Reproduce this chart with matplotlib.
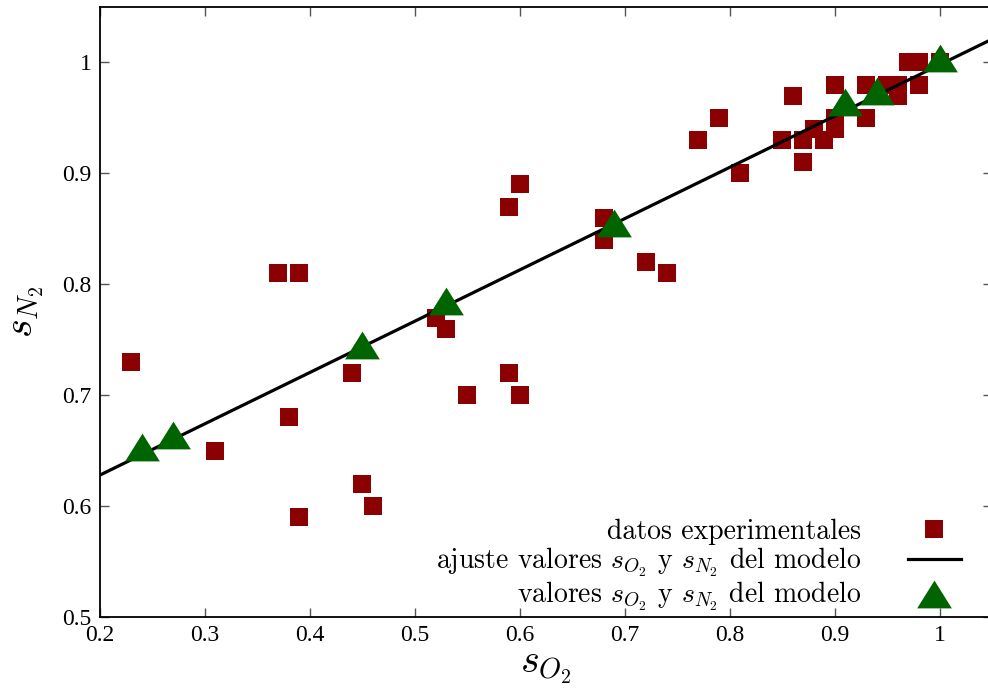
import numpy as np
import matplotlib.pyplot as plt
from matplotlib.ticker import FuncFormatter

# experimental data (s_O2, s_N2)
exp_x = [0.23, 0.31, 0.37, 0.39, 0.38, 0.39, 0.44, 0.45, 0.46, 0.52, 0.53, 0.55,
         0.59, 0.60, 0.59, 0.60, 0.68, 0.68, 0.72, 0.74, 0.77, 0.79, 0.81,
         0.85, 0.86, 0.87, 0.87, 0.88, 0.89, 0.90, 0.90, 0.90, 0.93, 0.93,
         0.93, 0.94, 0.95, 0.96, 0.96, 0.97, 0.98, 0.98, 1.00]
exp_y = [0.73, 0.65, 0.81, 0.81, 0.68, 0.59, 0.72, 0.62, 0.60, 0.77, 0.76, 0.70,
         0.72, 0.70, 0.87, 0.89, 0.86, 0.84, 0.82, 0.81, 0.93, 0.95, 0.90,
         0.93, 0.97, 0.93, 0.91, 0.94, 0.93, 0.98, 0.94, 0.95, 0.98, 0.95,
         0.98, 0.97, 0.98, 0.97, 0.98, 1.00, 1.00, 0.98, 1.00]

# model values
mod_x = [0.24, 0.27, 0.45, 0.53, 0.69, 0.91, 0.94, 1.00]
mod_y = [0.653, 0.664, 0.745, 0.785, 0.855, 0.964, 0.974, 1.004]

# fit line end points
fit_x = [0.2, 1.05]
fit_y = [0.628, 1.021]

plt.rcParams['mathtext.fontset'] = 'cm'
plt.rcParams['axes.unicode_minus'] = False

fig = plt.figure(figsize=(9.88, 6.93), dpi=100)
ax = fig.add_axes([100/988, 76/693, 892/988, 610/693])

ax.plot(exp_x, exp_y, 's', color='#8b0000', markersize=13, markeredgewidth=0,
        linestyle='none', label='datos experimentales', zorder=2)
ax.plot(fit_x, fit_y, color='black', lw=2.3,
        label=r'ajuste valores $s_{O_2}$ y $s_{N_2}$ del modelo', zorder=3)
tri = [(0, 0.8), (-1, -0.8), (1, -0.8)]
ax.plot(mod_x, mod_y, marker=tri, color='#006400', markersize=25, markeredgewidth=0,
        linestyle='none', label=r'valores $s_{O_2}$ y $s_{N_2}$ del modelo', zorder=4)

ax.set_xlim(0.2, 1.05)
ax.set_ylim(0.5, 1.05)
ax.set_xticks(np.arange(0.2, 1.01, 0.1))
ax.set_yticks(np.arange(0.5, 1.01, 0.1))
fmt = FuncFormatter(lambda v, p: '%g' % round(v, 2))
ax.xaxis.set_major_formatter(fmt)
ax.yaxis.set_major_formatter(fmt)
ax.tick_params(direction='in', length=6.5, width=1, color='#555555',
               top=True, right=True, labelsize=17, pad=6)
for lab in ax.get_xticklabels() + ax.get_yticklabels():
    lab.set_fontfamily('Liberation Serif')
for s in ax.spines.values():
    s.set_linewidth(1.3)

ax.set_xlabel(r'$s_{O_2}$', fontsize=29, labelpad=0)
ax.set_ylabel(r'$s_{N_2}$', fontsize=29, labelpad=12)

leg = ax.legend(loc='lower right', bbox_to_anchor=(0.965, 0.006), frameon=False,
                markerfirst=False, prop={'family': 'cmr10', 'size': 20},
                handlelength=1.9, handletextpad=1.7, labelspacing=0.05,
                borderpad=0, borderaxespad=0)

plt.savefig('out.png', dpi=100)
